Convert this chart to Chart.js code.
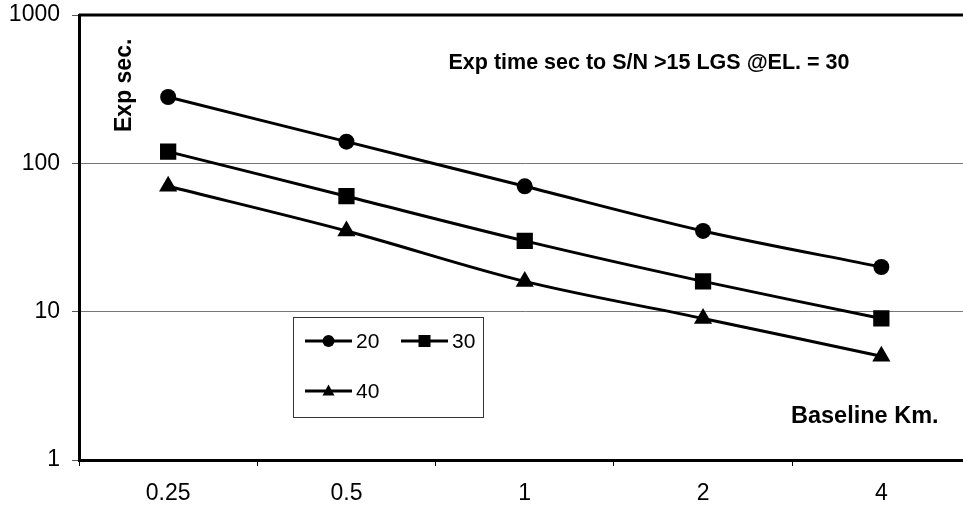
<!DOCTYPE html>
<html>
<head>
<meta charset="utf-8">
<script src="https://cdn.jsdelivr.net/npm/chart.js@4/dist/chart.umd.min.js"></script>
<style>
html, body { margin: 0; padding: 0; background: #fff; overflow: hidden; }
#wrap { width: 963px; height: 508px; overflow: hidden; }
</style>
</head>
<body>
<div id="wrap"><canvas id="expChart" width="982" height="508"></canvas></div>
<script>
// data
var baselines = ['0.25', '0.5', '1', '2', '4'];
var seriesNames = ['20', '30', '40'];
var exp20 = [280, 140, 70, 35, 20];
var exp30 = [120, 60, 30, 16, 9];
var exp40 = [70, 35, 16, 9, 5];
var yTicks = [1, 10, 100, 1000];

var FONT = "'Liberation Sans', Arial, sans-serif";

// top frame line + text notes
var notesPlugin = {
    id: 'notes',
    afterDraw: function (chart) {
        var ctx = chart.ctx;
        var a = chart.chartArea;
        ctx.save();
        ctx.strokeStyle = '#000';
        ctx.lineWidth = 3;
        ctx.beginPath();
        ctx.moveTo(a.left, a.top);
        ctx.lineTo(a.right, a.top);
        ctx.stroke();

        ctx.fillStyle = '#000';
        ctx.textBaseline = 'alphabetic';
        ctx.textAlign = 'center';
        ctx.font = 'bold 21.5px ' + FONT;
        ctx.fillText('Exp time sec to S/N >15 LGS @EL. = 30', 649, 69);
        ctx.textAlign = 'left';
        ctx.font = 'bold 23.5px ' + FONT;
        ctx.fillText('Baseline Km.', 791, 423);

        ctx.font = 'bold 23px ' + FONT;
        ctx.translate(131, 132);
        ctx.rotate(-Math.PI / 2);
        ctx.fillText('Exp sec.', 0, 0);
        ctx.restore();
    }
};

function marker(ctx, style, x, y, r) {
    ctx.beginPath();
    if (style === 'circle') {
        ctx.arc(x, y, r, 0, Math.PI * 2);
    } else if (style === 'rect') {
        ctx.rect(x - r, y - r, r * 2, r * 2);
    } else {
        ctx.moveTo(x, y - r * 1.1);
        ctx.lineTo(x + r, y + r * 0.75);
        ctx.lineTo(x - r, y + r * 0.75);
        ctx.closePath();
    }
    ctx.fill();
}

// boxed legend inside the plot
var boxLegend = {
    id: 'boxLegend',
    afterDraw: function (chart) {
        var ctx = chart.ctx;
        var spots = [[305, 341], [401, 341], [305, 391]];
        ctx.save();
        ctx.strokeStyle = '#333';
        ctx.lineWidth = 1;
        ctx.strokeRect(293.5, 317.5, 190, 100);
        ctx.font = '21px ' + FONT;
        ctx.textBaseline = 'middle';
        ctx.textAlign = 'left';
        chart.data.datasets.forEach(function (ds, i) {
            var x = spots[i][0], y = spots[i][1];
            ctx.strokeStyle = '#000';
            ctx.fillStyle = '#000';
            ctx.lineWidth = 3;
            ctx.beginPath();
            ctx.moveTo(x, y);
            ctx.lineTo(x + 47, y);
            ctx.stroke();
            marker(ctx, ds.pointStyle, x + 23.5, y, 6);
            ctx.fillText(ds.label, x + 51, y + 1);
        });
        ctx.restore();
    }
};

function lineSet(name, values, style, r) {
    return {
        label: name,
        data: values,
        borderColor: '#000',
        backgroundColor: '#000',
        borderWidth: 3,
        pointStyle: style,
        pointRadius: r,
        pointHoverRadius: r,
        pointBackgroundColor: '#000',
        pointBorderColor: '#000',
        pointBorderWidth: 0,
        tension: 0.33,
        fill: false
    };
}

var chart = new Chart(document.getElementById('expChart'), {
    type: 'line',
    data: {
        labels: baselines,
        datasets: [
            lineSet(seriesNames[0], exp20, 'circle', 8),
            lineSet(seriesNames[1], exp30, 'rect', 11.5),
            lineSet(seriesNames[2], exp40, 'triangle', 10.5)
        ]
    },
    plugins: [notesPlugin, boxLegend],
    options: {
        responsive: false,
        animation: false,
        layout: { padding: { top: 15, right: 3, left: 0, bottom: 0 } },
        plugins: {
            legend: { display: false },
            tooltip: { enabled: false }
        },
        scales: {
            x: {
                type: 'category',
                offset: true,
                grid: {
                    offset: true,
                    color: 'rgba(0,0,0,0)',
                    tickColor: '#000',
                    tickLength: 6,
                    tickWidth: 1
                },
                border: { color: '#000', width: 3 },
                ticks: {
                    color: '#000',
                    font: { family: FONT, size: 23 },
                    padding: 14,
                    maxRotation: 0
                },
                afterFit: function (scale) {
                    scale.height = 48;
                    scale.paddingLeft = 0;
                    scale.paddingRight = 0;
                }
            },
            y: {
                type: 'logarithmic',
                min: 1,
                max: 1000,
                afterBuildTicks: function (scale) {
                    scale.ticks = yTicks.map(function (v) { return { value: v }; });
                },
                grid: {
                    color: function (c) {
                        var v = c.tick && c.tick.value;
                        return (v === 10 || v === 100) ? '#777' : 'rgba(0,0,0,0)';
                    },
                    lineWidth: 1,
                    tickColor: '#555',
                    tickLength: 7
                },
                border: { color: '#000', width: 3 },
                ticks: {
                    color: '#000',
                    autoSkip: false,
                    font: { family: FONT, size: 23 },
                    padding: 12,
                    callback: function (v) { return String(v); }
                },
                afterFit: function (scale) {
                    scale.width = 79;
                    scale.paddingTop = 0;
                    scale.paddingBottom = 0;
                }
            }
        }
    }
});
</script>
</body>
</html>
